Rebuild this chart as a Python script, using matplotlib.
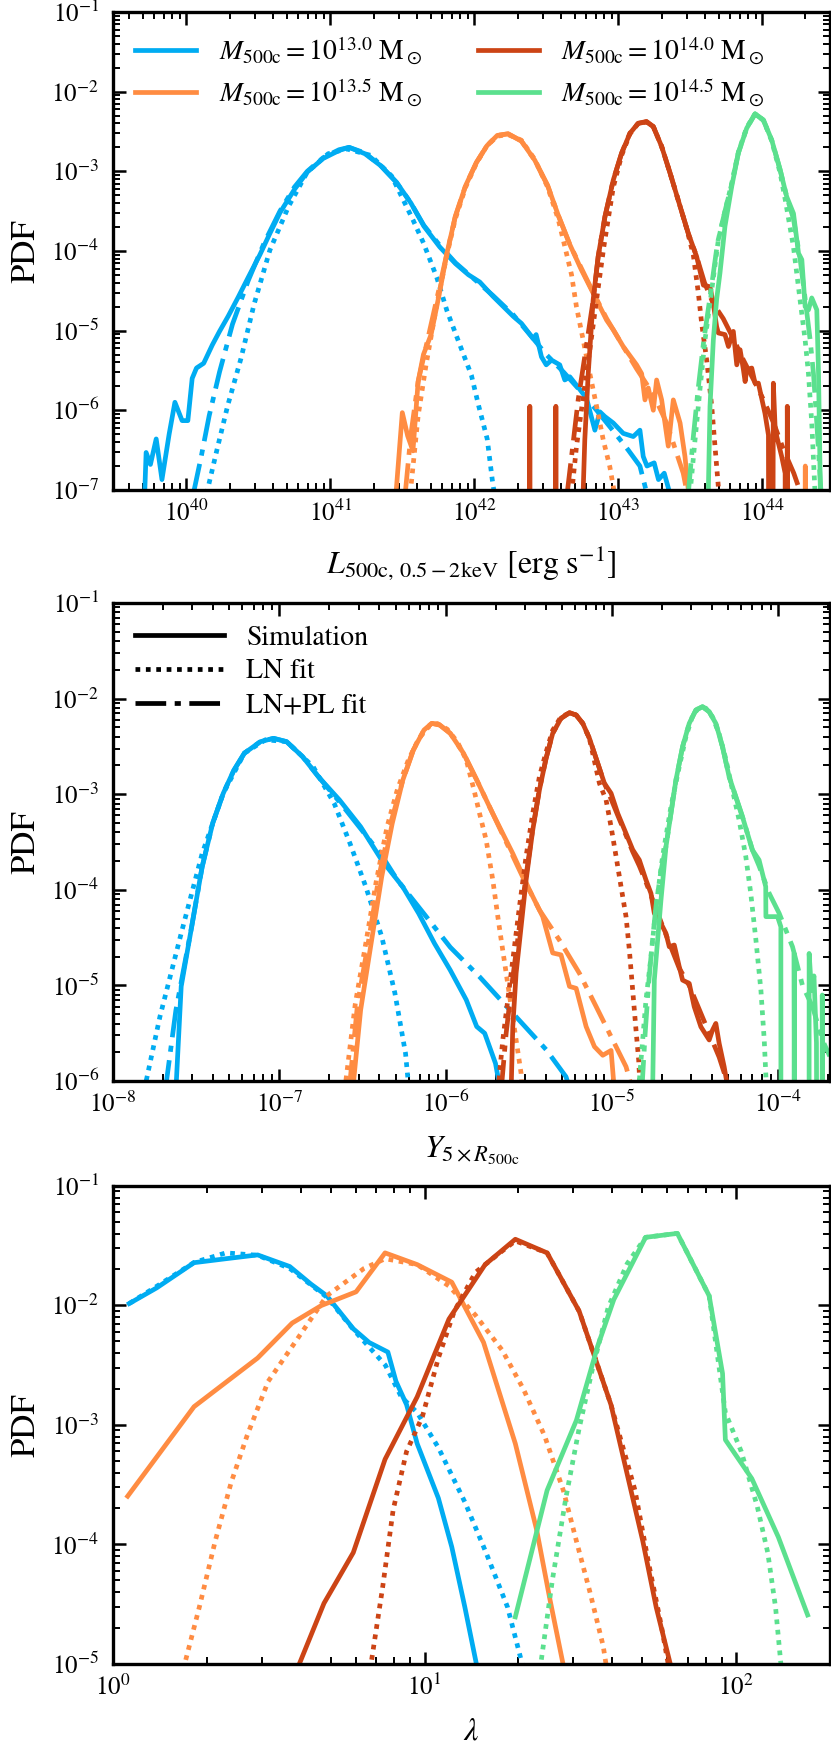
import numpy as np
import matplotlib
matplotlib.use('Agg')
import matplotlib.pyplot as plt
from matplotlib.lines import Line2D

plt.rcParams['font.family'] = ['STIXGeneral', 'DejaVu Serif']
plt.rcParams['mathtext.fontset'] = 'stix'

# masas y colores
masas = ['13.0', '13.5', '14.0', '14.5']
colores = ['#00ACF2', '#FF8C42', '#CC4415', '#5BE08E']

# ---- Panel 1: L_500c (valores en log10) ----
L_sim_x = {
    '13.0': [39.71, 39.72, 39.75, 39.79, 39.83, 39.88, 39.92, 39.97, 40.01, 40.04, 40.07, 40.12, 40.18, 40.23, 40.29,
             40.36, 40.43, 40.51, 40.58, 40.65, 40.75, 40.84, 40.95, 41.06, 41.13, 41.24, 41.35, 41.46, 41.56, 41.65,
             41.76, 41.87, 41.96, 42.038, 42.13, 42.27, 42.328, 42.409, 42.43, 42.467, 42.5, 42.537, 42.594, 42.629,
             42.664, 42.734, 42.78, 42.838, 42.873, 42.908, 42.966, 43.035, 43.105, 43.151, 43.174, 43.20, 43.25,
             43.28, 43.32, 43.36],
    '13.5': [41.456, 41.5, 41.537, 41.574, 41.61, 41.647, 41.70, 41.757, 41.81, 41.868, 41.94, 42.015, 42.088, 42.16,
             42.235, 42.327, 42.42, 42.51, 42.583, 42.664, 42.745, 42.826, 42.92, 42.966, 43.035, 43.128, 43.163,
             43.186, 43.209, 43.244, 43.267, 43.302, 43.325, 43.348, 43.383, 43.43, 43.464, 43.49, 44.05, 44.055,
             44.06, 44.295, 44.30, 44.305],
    '14.0': [42.38, 42.386, 42.392, 42.56, 42.567, 42.573, 42.75, 42.757, 42.768, 42.792, 42.826, 42.861, 42.908,
             42.966, 43.024, 43.082, 43.139, 43.197, 43.244, 43.302, 43.36, 43.43, 43.487, 43.545, 43.592, 43.638,
             43.661, 43.684, 43.696, 43.742, 43.766, 43.80, 43.824, 43.847, 43.87, 43.882, 43.893, 43.928, 43.951,
             43.974, 44.02, 44.044, 44.05, 44.07, 44.078, 44.09, 44.102, 44.136, 44.16, 44.165, 44.17, 44.175,
             44.19],
    '14.5': [43.626, 43.638, 43.661, 43.684, 43.707, 43.742, 43.789, 43.835, 43.893, 43.951, 44.009, 44.067, 44.125,
             44.171, 44.218, 44.253, 44.276, 44.299, 44.322, 44.345, 44.38, 44.392, 44.405],
}
L_sim_y = {
    '13.0': [-7.05, -6.53, -6.68, -6.36, -6.87, -6.30, -5.90, -6.13, -6.13, -5.60, -5.47, -5.41, -5.18, -5.01, -4.82,
             -4.58, -4.33, -4.05, -3.78, -3.52, -3.23, -3.01, -2.84, -2.74, -2.70, -2.78, -2.93, -3.14, -3.40, -3.69,
             -3.95, -4.16, -4.30, -4.39, -4.57, -4.82, -4.91, -5.10, -5.05, -5.33, -5.43, -5.37, -5.43, -5.62,
             -5.58, -5.74, -5.85, -6.25, -6.02, -6.08, -6.16, -6.29, -6.33, -6.25, -6.58, -6.70, -6.66,
             -6.87, -6.79, -7.05],
    '13.5': [-7.05, -6.03, -6.32, -6.51, -5.64, -5.30, -5.05, -4.54, -4.03, -3.57, -3.18, -2.89, -2.68, -2.55,
             -2.53, -2.62, -2.86, -3.18, -3.55, -3.92, -4.24, -4.53, -4.87, -4.99, -5.20, -5.43, -5.54,
             -5.87, -5.72, -6.00, -5.62, -5.87, -6.16, -6.45, -5.87, -6.16, -6.58, -7.05, -12, -6.62,
             -12, -12, -6.70, -12],
    '14.0': [-12, -5.95, -12, -12, -5.95, -12, -12, -7.0, -6.37, -5.535, -4.615, -4.07, -3.57,
             -3.11, -2.773, -2.523, -2.397, -2.376, -2.439, -2.69, -3.02, -3.44, -3.78, -4.07, -4.43, -4.45,
             -4.66, -4.95, -5.03, -5.05, -5.20, -5.01, -5.43, -5.24, -5.49, -5.64, -5.49, -5.47, -5.66,
             -5.66, -6.04, -6.31, -12, -12, -5.66, -6.20, -6.33, -6.58, -6.79, -12, -12, -5.95,
             -12],
    '14.5': [-7.05, -5.95, -5.12, -4.61, -4.28, -3.69, -3.19, -2.77, -2.46, -2.28, -2.355, -2.61, -2.98,
             -3.32, -3.53, -4.03, -4.11, -4.70, -4.74, -4.59, -4.74, -5.54, -7.05],
}
L_ln_x = {
    '13.0': [40.14, 40.213, 40.287, 40.379, 40.47, 40.58, 40.71, 40.84, 40.985, 41.114, 41.28, 41.426, 41.574, 41.647,
             41.739, 41.81, 41.90, 41.98, 42.03, 42.09, 42.125, 42.14],
    '13.5': [41.555, 41.61, 41.665, 41.74, 41.81, 41.868, 41.94, 42.015, 42.088, 42.16, 42.235, 42.327, 42.42, 42.51,
             42.583, 42.63, 42.676, 42.71, 42.757, 42.803, 42.85, 42.896, 42.942, 42.975],
    '14.0': [42.676, 42.71, 42.757, 42.803, 42.85, 42.90, 42.966, 43.024, 43.082, 43.139, 43.197, 43.244, 43.302,
             43.36, 43.43, 43.476, 43.522, 43.557, 43.58, 43.615, 43.65, 43.673, 43.70],
    '14.5': [43.499, 43.534, 43.568, 43.603, 43.65, 43.696, 43.742, 43.789, 43.835, 43.893, 43.951, 44.009, 44.067,
             44.125, 44.16, 44.218, 44.264, 44.299, 44.322, 44.345, 44.368],
}
L_ln_y = {
    '13.0': [-7.05, -6.49, -5.94, -5.35, -4.67, -3.99, -3.44, -3.01, -2.78, -2.72, -2.80, -3.06, -3.61, -3.90,
             -4.33, -4.75, -5.18, -5.56, -5.94, -6.36, -6.87, -7.05],
    '13.5': [-7.05, -6.07, -5.43, -4.67, -4.05, -3.60, -3.20, -2.90, -2.68, -2.56, -2.54, -2.61, -2.85, -3.20,
             -3.60, -3.95, -4.30, -4.70, -5.12, -5.54, -5.95, -6.37, -6.71, -7.05],
    '14.0': [-7.05, -6.46, -5.83, -5.24, -4.61, -3.95, -3.20, -2.80, -2.53, -2.40, -2.38, -2.44, -2.69,
             -3.02, -3.44, -3.72, -4.05, -4.53, -4.91, -5.37, -5.95, -6.46, -7.05],
    '14.5': [-7.05, -6.37, -5.74, -5.12, -4.49, -3.86, -3.50, -3.15, -2.76, -2.45, -2.28, -2.36, -2.62,
             -3.02, -3.35, -3.95, -4.62, -5.12, -5.54, -6.16, -7.05],
}
L_pl_x = {
    '13.0': [40.048, 40.103, 40.158, 40.23, 40.32, 40.43, 40.54, 40.65, 40.75, 40.84, 40.95, 41.06, 41.13, 41.24,
             41.35, 41.46, 41.56, 41.65, 41.76, 41.87, 42.01, 42.13, 42.27, 42.40, 42.50, 42.62, 42.734, 42.85,
             42.966, 43.07, 43.151, 43.20],
    '13.5': [41.52, 41.56, 41.61, 41.665, 41.74, 41.81, 41.868, 41.94, 42.015, 42.088, 42.16, 42.235, 42.327, 42.42,
             42.51, 42.583, 42.664, 42.745, 42.826, 42.92, 43.035, 43.128, 43.244, 43.337, 43.406, 43.452, 43.48],
    '14.0': [42.645, 42.687, 42.722, 42.77, 42.826, 42.861, 42.908, 42.966, 43.024, 43.082, 43.139, 43.197, 43.244,
             43.302, 43.36, 43.43, 43.487, 43.545, 43.60, 43.66, 43.73, 43.80, 43.87, 43.95, 44.01, 44.08, 44.15,
             44.22, 44.27],
    '14.5': [43.487, 43.52, 43.555, 43.595, 43.645, 43.69, 43.742, 43.789, 43.835, 43.893, 43.951, 44.009, 44.067,
             44.125, 44.171, 44.218, 44.264, 44.299, 44.334, 44.357, 44.38, 44.41],
}
L_pl_y = {
    '13.0': [-7.05, -6.58, -6.07, -5.52, -4.92, -4.37, -3.90, -3.50, -3.20, -3.00, -2.83, -2.73, -2.70, -2.77,
             -2.93, -3.14, -3.40, -3.68, -3.93, -4.15, -4.37, -4.56, -4.80, -5.08, -5.30, -5.52, -5.75, -6.00,
             -6.26, -6.50, -6.70, -7.05],
    '13.5': [-7.05, -6.30, -5.64, -5.20, -4.60, -4.03, -3.57, -3.18, -2.89, -2.68, -2.55, -2.53, -2.62, -2.86,
             -3.18, -3.55, -3.92, -4.22, -4.52, -4.85, -5.20, -5.48, -5.80, -6.16, -6.54, -6.79, -7.05],
    '14.0': [-7.05, -6.41, -5.87, -5.30, -4.62, -4.07, -3.57, -3.11, -2.77, -2.52, -2.40, -2.38, -2.44,
             -2.69, -3.02, -3.44, -3.78, -4.07, -4.40, -4.66, -4.85, -5.10, -5.37, -5.65, -5.87, -6.16, -6.50,
             -6.79, -7.05],
    '14.5': [-7.05, -6.37, -5.74, -5.12, -4.49, -3.90, -3.50, -3.16, -2.77, -2.46, -2.28, -2.36, -2.61,
             -2.98, -3.32, -3.60, -4.10, -4.60, -5.12, -5.54, -6.16, -7.05],
}

# ---- Panel 2: Y_5R500c (log10) ----
Y_sim_x = {
    '13.0': [-7.622, -7.59, -7.527, -7.464, -7.40, -7.337, -7.273, -7.21, -7.114, -7.035, -6.956, -6.86, -6.765, -6.638,
             -6.511, -6.384, -6.257, -6.162, -6.067, -5.972, -5.876, -5.813, -5.765, -5.70, -5.67],
    '13.5': [-6.559, -6.511, -6.448, -6.384, -6.321, -6.257, -6.194, -6.13, -6.083, -6.035, -5.972, -5.892, -5.813,
             -5.717, -5.596, -5.496, -5.416, -5.356, -5.306, -5.255, -5.215, -5.155, -5.105, -5.055, -5.005, -4.985],
    '14.0': [-5.606, -5.596, -5.576, -5.546, -5.516, -5.476, -5.436, -5.396, -5.356, -5.306, -5.255, -5.215, -5.175,
             -5.135, -5.085, -5.045, -5.005, -4.965, -4.915, -4.875, -4.835, -4.795, -4.765, -4.745, -4.715, -4.675,
             -4.655, -4.625, -4.595, -4.575, -4.535, -4.505, -4.465, -4.415, -4.395, -4.375, -4.355, -4.325, -4.30],
    '14.5': [-4.755, -4.745, -4.725, -4.705, -4.675, -4.645, -4.615, -4.575, -4.535, -4.495, -4.455, -4.415, -4.375,
             -4.335, -4.295, -4.255, -4.215, -4.185, -4.155, -4.115, -4.075, -4.074, -4.004, -3.984, -3.983, -3.905,
             -3.904, -3.894, -3.815, -3.814, -3.80, -3.785, -3.77, -3.76, -3.74, -3.735, -3.72],
}
Y_sim_y = {
    '13.0': [-6.1, -5.01, -4.385, -3.758, -3.30, -2.99, -2.747, -2.57, -2.45, -2.415, -2.45, -2.607, -2.816, -3.06,
             -3.34, -3.69, -3.97, -4.246, -4.56, -4.84, -5.15, -5.43, -5.50, -5.815, -6.1],
    '13.5': [-6.1, -5.257, -4.56, -3.86, -3.305, -2.85, -2.537, -2.328, -2.258, -2.276, -2.363, -2.572, -2.85,
             -3.20, -3.62, -4.00, -4.28, -4.66, -4.68, -5.01, -5.03, -5.43, -5.64, -5.73, -5.68, -6.1],
    '14.0': [-6.1, -5.43, -4.87, -4.385, -3.897, -3.374, -2.956, -2.625, -2.363, -2.206, -2.147, -2.172, -2.259,
             -2.416, -2.677, -2.886, -2.99, -3.20, -3.41, -3.58, -3.688, -3.897, -4.037, -4.246, -4.316, -4.455,
             -4.595, -4.577, -4.804, -4.944, -4.979, -5.222, -5.432, -5.57, -5.467, -5.397, -5.606, -5.85, -6.1],
    '14.5': [-6.1, -4.944, -4.525, -4.107, -3.549, -3.20, -2.851, -2.503, -2.259, -2.119, -2.084, -2.137, -2.259,
             -2.503, -2.817, -3.026, -3.235, -3.41, -3.584, -3.688, -3.967, -4.28, -4.28, -4.386, -12, -12,
             -4.665, -12, -12, -4.665, -5.05, -4.90, -5.60, -12, -12, -5.10, -12],
}
Y_ln_x = {
    '13.0': [-7.813, -7.718, -7.59, -7.464, -7.337, -7.21, -7.083, -6.956, -6.797, -6.67, -6.575, -6.48, -6.384, -6.305,
             -6.241, -6.22],
    '13.5': [-6.607, -6.543, -6.48, -6.416, -6.352, -6.29, -6.226, -6.162, -6.10, -6.05, -5.99, -5.93, -5.876, -5.83,
             -5.796, -5.756, -5.716, -5.686, -5.666, -5.636, -5.606, -5.576, -5.546, -5.54],
    '14.0': [-5.686, -5.656, -5.626, -5.596, -5.556, -5.516, -5.476, -5.436, -5.396, -5.356, -5.306, -5.255, -5.215,
             -5.175, -5.135, -5.075, -5.035, -5.005, -4.975, -4.945, -4.915, -4.895, -4.875, -4.855, -4.839, -4.83],
    '14.5': [-4.84, -4.815, -4.795, -4.765, -4.735, -4.695, -4.645, -4.595, -4.555, -4.515, -4.475, -4.435, -4.395,
             -4.355, -4.315, -4.275, -4.235, -4.195, -4.165, -4.134, -4.104, -4.084, -4.07],
}
Y_ln_y = {
    '13.0': [-6.1, -5.327, -4.455, -3.62, -2.99, -2.57, -2.43, -2.45, -2.71, -3.095, -3.514, -3.967, -4.49, -5.08,
             -5.71, -6.1],
    '13.5': [-6.1, -5.19, -4.56, -3.90, -3.34, -2.95, -2.65, -2.42, -2.29, -2.26, -2.32, -2.45, -2.64, -2.95,
             -3.20, -3.48, -3.90, -4.28, -4.52, -4.87, -5.22, -5.57, -5.92, -6.1],
    '14.0': [-6.1, -5.57, -5.15, -4.734, -4.176, -3.65, -3.20, -2.817, -2.56, -2.33, -2.19, -2.15, -2.17,
             -2.26, -2.42, -2.886, -3.06, -3.34, -3.65, -3.967, -4.28, -4.63, -5.05, -5.467, -5.78, -6.1],
    '14.5': [-6.1, -5.57, -5.15, -4.70, -4.176, -3.65, -3.13, -2.712, -2.40, -2.18, -2.09, -2.10, -2.19,
             -2.37, -2.63, -2.956, -3.27, -3.65, -4.037, -4.525, -5.05, -5.57, -6.1],
}
Y_pl_x = {
    '13.0': [-7.686, -7.622, -7.527, -7.464, -7.40, -7.337, -7.273, -7.21, -7.114, -7.035, -6.956, -6.86, -6.765, -6.638,
             -6.511, -6.384, -6.289, -6.13, -5.972, -5.796, -5.596, -5.396, -5.276, -5.25],
    '13.5': [-6.58, -6.53, -6.46, -6.40, -6.33, -6.257, -6.194, -6.13, -6.083, -6.035, -5.972, -5.892, -5.813, -5.717,
             -5.622, -5.527, -5.436, -5.316, -5.195, -5.095, -4.995, -4.915, -4.875],
    '14.0': [-5.666, -5.636, -5.606, -5.576, -5.546, -5.516, -5.476, -5.436, -5.396, -5.356, -5.306, -5.255, -5.215,
             -5.175, -5.135, -5.085, -5.045, -5.005, -4.965, -4.915, -4.875, -4.835, -4.795, -4.745, -4.695, -4.645,
             -4.595, -4.535, -4.475, -4.415, -4.355, -4.29],
    '14.5': [-4.82, -4.80, -4.78, -4.76, -4.735, -4.705, -4.675, -4.645, -4.615, -4.575, -4.535, -4.495, -4.455,
             -4.415, -4.375, -4.335, -4.295, -4.255, -4.215, -4.185, -4.155, -4.115, -4.054, -3.994, -3.914, -3.854,
             -3.794, -3.734, -3.69],
}
Y_pl_y = {
    '13.0': [-6.1, -5.26, -4.385, -3.76, -3.30, -2.99, -2.75, -2.57, -2.45, -2.415, -2.45, -2.607, -2.816, -3.08,
             -3.36, -3.64, -3.90, -4.25, -4.60, -4.909, -5.29, -5.67, -5.955, -6.1],
    '13.5': [-6.1, -5.20, -4.50, -3.85, -3.30, -2.85, -2.537, -2.328, -2.258, -2.276, -2.363, -2.572, -2.85, -3.20,
             -3.55, -3.90, -4.21, -4.525, -4.874, -5.22, -5.57, -5.85, -6.1],
    '14.0': [-6.1, -5.50, -5.05, -4.65, -4.25, -3.85, -3.36, -2.95, -2.625, -2.363, -2.206, -2.147, -2.172,
             -2.259, -2.416, -2.677, -2.886, -3.05, -3.22, -3.43, -3.60, -3.75, -3.92, -4.15, -4.38, -4.60,
             -4.82, -5.00, -5.25, -5.50, -5.75, -6.1],
    '14.5': [-6.1, -5.50, -5.00, -4.60, -4.17, -3.80, -3.549, -3.20, -2.851, -2.503, -2.259, -2.119, -2.084,
             -2.137, -2.259, -2.503, -2.817, -3.026, -3.235, -3.41, -3.584, -3.75, -4.037, -4.246, -4.595, -5.00,
             -5.22, -5.57, -5.74],
}

# ---- Panel 3: lambda (log10) ----
lam_sim_x = {
    '13.0': [0.052, 0.140, 0.260, 0.362, 0.464, 0.567, 0.635, 0.686, 0.771, 0.822, 0.882, 0.908, 0.942, 0.976, 1.044,
             1.087, 1.129, 1.17],
    '13.5': [0.047, 0.26, 0.464, 0.575, 0.669, 0.78, 0.873, 0.976, 1.087, 1.189, 1.291, 1.359, 1.402, 1.448],
    '14.0': [0.59, 0.677, 0.771, 0.873, 0.976, 1.078, 1.194, 1.291, 1.393, 1.496, 1.598, 1.70, 1.743, 1.793],
    '14.5': [1.291, 1.393, 1.487, 1.555, 1.607, 1.709, 1.811, 1.913, 1.956, 1.965, 2.05, 2.135, 2.229],
}
lam_sim_y = {
    '13.0': [-1.984, -1.853, -1.642, -1.609, -1.577, -1.674, -1.821, -1.919, -2.195, -2.31, -2.39, -2.635, -2.83,
             -3.156, -3.612, -4.02, -4.524, -5.05],
    '13.5': [-3.596, -2.847, -2.44, -2.147, -2.0, -1.886, -1.56, -1.658, -1.805, -2.309, -3.156, -3.873, -4.459, -5.05],
    '14.0': [-5.05, -4.492, -4.068, -3.287, -2.765, -2.114, -1.658, -1.446, -1.56, -2.049, -2.831, -3.971, -4.524,
             -5.05],
    '14.5': [-4.606, -3.547, -2.961, -2.342, -1.951, -1.43, -1.397, -1.919, -2.57, -3.124, -3.449, -3.938, -4.59],
}
lam_ln_x = {
    '13.0': [0.052, 0.140, 0.26, 0.362, 0.464, 0.567, 0.686, 0.771, 0.874, 0.925, 0.976, 1.044, 1.129, 1.197, 1.266,
             1.318],
    '13.5': [0.225, 0.277, 0.328, 0.379, 0.43, 0.498, 0.584, 0.686, 0.805, 0.873, 0.976, 1.078, 1.163, 1.249, 1.317,
             1.385, 1.445, 1.487, 1.53, 1.573, 1.585],
    '14.0': [0.825, 0.865, 0.899, 0.942, 0.993, 1.044, 1.095, 1.163, 1.249, 1.291, 1.393, 1.496, 1.598, 1.675, 1.717,
             1.76, 1.785],
    '14.5': [1.37, 1.41, 1.453, 1.496, 1.538, 1.589, 1.65, 1.709, 1.811, 1.913, 1.965, 2.016, 2.067, 2.101, 2.126,
             2.145],
}
lam_ln_y = {
    '13.0': [-1.984, -1.84, -1.64, -1.56, -1.58, -1.69, -1.93, -2.2, -2.5, -2.765, -2.896, -3.189, -3.645, -4.068,
             -4.524, -5.05],
    '13.5': [-5.05, -4.524, -3.971, -3.482, -3.091, -2.635, -2.309, -1.919, -1.691, -1.609, -1.658, -1.837, -2.081,
             -2.375, -2.70, -3.091, -3.547, -3.971, -4.394, -4.85, -5.05],
    '14.0': [-5.05, -4.362, -3.71, -3.222, -2.928, -2.44, -2.049, -1.723, -1.544, -1.46, -1.56, -2.049, -2.831,
             -3.547, -4.134, -4.687, -5.05],
    '14.5': [-5.05, -4.296, -3.612, -3.026, -2.537, -2.016, -1.65, -1.43, -1.397, -1.919, -2.896, -3.222, -3.678,
             -4.068, -4.524, -5.05],
}

fig = plt.figure(figsize=(8.31, 17.51), dpi=100)
izq, ancho, alto = 0.136, 0.8625, 0.273
ax1 = fig.add_axes([izq, 0.7202, ancho, alto])
ax2 = fig.add_axes([izq, 0.3826, ancho, alto])
ax3 = fig.add_axes([izq, 0.0497, ancho, alto])

lw = 3.4
punteado = (0, (1.0, 1.2))
rayapunto = (0, (6.5, 1.8, 1.3, 1.8))
for m, c in zip(masas, colores):
    etiqueta = r'$M_{\rm 500c}=10^{' + m + r'}\ {\rm M_\odot}$'
    ax1.plot(10**np.array(L_sim_x[m]), 10**np.array(L_sim_y[m]), ls='-', color=c, lw=lw, label=etiqueta)
    ax1.plot(10**np.array(L_ln_x[m]), 10**np.array(L_ln_y[m]), ls=punteado, color=c, lw=lw)
    ax1.plot(10**np.array(L_pl_x[m]), 10**np.array(L_pl_y[m]), ls=rayapunto, color=c, lw=lw)

    ax2.plot(10**np.array(Y_sim_x[m]), 10**np.array(Y_sim_y[m]), ls='-', color=c, lw=lw)
    ax2.plot(10**np.array(Y_ln_x[m]), 10**np.array(Y_ln_y[m]), ls=punteado, color=c, lw=lw)
    ax2.plot(10**np.array(Y_pl_x[m]), 10**np.array(Y_pl_y[m]), ls=rayapunto, color=c, lw=lw)

    ax3.plot(10**np.array(lam_sim_x[m]), 10**np.array(lam_sim_y[m]), ls='-', color=c, lw=lw)
    ax3.plot(10**np.array(lam_ln_x[m]), 10**np.array(lam_ln_y[m]), ls=punteado, color=c, lw=lw)

ax1.set_xlim(10**39.49, 10**44.47)
ax1.set_ylim(1e-7, 1e-1)
ax2.set_xlim(1e-8, 10**-3.69)
ax2.set_ylim(1e-6, 1e-1)
ax3.set_xlim(1, 10**2.30)
ax3.set_ylim(1e-5, 1e-1)

ax1.set_xlabel(r'$L_{\rm 500c,\,0.5-2keV}\ [{\rm erg\ s^{-1}}]$', fontsize=23)
ax2.set_xlabel(r'$Y_{5\times R_{\rm 500c}}$', fontsize=23)
ax3.set_xlabel(r'$\lambda$', fontsize=23)

for ax in (ax1, ax2, ax3):
    ax.set_xscale('log')
    ax.set_yscale('log')
    ax.set_ylabel('PDF', fontsize=25)
    ax.yaxis.set_label_coords(-0.098, 0.5)
    ax.xaxis.set_label_coords(0.5, -0.112)
    ax.tick_params(which='both', direction='in', top=True, right=True, labelsize=18)
    ax.tick_params(axis='x', which='both', pad=8)
    ax.tick_params(axis='y', which='both', pad=10)
    ax.tick_params(which='major', length=9, width=1.8)
    ax.tick_params(which='minor', length=5, width=1.4)
    for s in ax.spines.values():
        s.set_linewidth(2.4)

ax1.legend(loc='upper left', ncol=2, frameon=False, fontsize=20, handlelength=2.2,
           columnspacing=2.0, labelspacing=0.35, borderaxespad=0.4)

proxies = [Line2D([], [], color='k', lw=lw, ls='-'),
           Line2D([], [], color='k', lw=lw, ls=punteado),
           Line2D([], [], color='k', lw=lw, ls=rayapunto)]
ax2.legend(proxies, ['Simulation', 'LN fit', 'LN+PL fit'], loc='upper left', frameon=False,
           fontsize=20, handlelength=3.2, labelspacing=0.3, borderaxespad=0.4)

fig.savefig('out.png', dpi=100)
